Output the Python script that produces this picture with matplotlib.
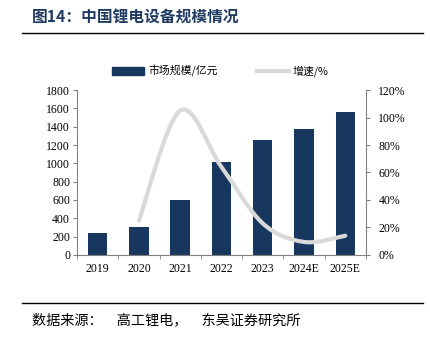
import matplotlib
matplotlib.use("Agg")
import matplotlib.pyplot as plt
from matplotlib.path import Path
from matplotlib.patches import PathPatch
from matplotlib.lines import Line2D
from matplotlib.patches import Patch
import numpy as np

years = ["2019", "2020", "2021", "2022", "2023", "2024E", "2025E"]
market = [240, 300, 600, 1010, 1250, 1370, 1560]
growth_years = ["2020", "2021", "2022", "2023", "2024E", "2025E"]
growth = [25, 105, 64, 23, 9.5, 14]

NAVY = "#17375e"
GREY = "#d9d9d9"
CJK = ["Noto Sans CJK SC", "DejaVu Sans"]
SERIF = "Liberation Serif"

fig = plt.figure(figsize=(4.31, 3.38), dpi=100)
ax = fig.add_axes([0.1787, 0.2456, 0.6703, 0.4881])
ax2 = ax.twinx()

x = np.arange(len(years))
ax.bar(x, market, width=0.47, color=NAVY, zorder=2)
ax.set_xlim(-0.5, len(years) - 0.5)
ax.set_ylim(0, 1800)
ax.set_yticks(range(0, 1801, 200))
ax.set_xticks(x)
ax.set_xticklabels(years)
ax.set_xticks(np.arange(-0.5, len(years)), minor=True)
ax.tick_params(axis="x", which="major", length=0, pad=6)
ax.tick_params(axis="x", which="minor", length=3, color="#808080", direction="out")
ax.tick_params(axis="y", length=3, color="#808080", pad=2)

# smooth growth line: cubic bezier through the data points (catmull-rom)
gx = [years.index(y) for y in growth_years]
pts = np.column_stack([gx, growth]).astype(float)
verts = [pts[0]]
codes = [Path.MOVETO]
for i in range(len(pts) - 1):
    p0 = pts[i - 1] if i > 0 else pts[i]
    p1, p2 = pts[i], pts[i + 1]
    p3 = pts[i + 2] if i + 2 < len(pts) else pts[i + 1]
    c1 = p1 + (p2 - p0) / 6.0
    c2 = p2 - (p3 - p1) / 6.0
    verts += [c1, c2, p2]
    codes += [Path.CURVE4] * 3
ax2.add_patch(PathPatch(Path(verts, codes), fill=False, edgecolor=GREY,
                        lw=3, capstyle="round", zorder=3))
ax2.set_ylim(0, 120)
ax2.set_yticks(range(0, 121, 20))
ax2.set_yticklabels([f"{v}%" for v in range(0, 121, 20)])
ax2.tick_params(axis="y", length=3, color="#808080", pad=6)

for a in (ax, ax2):
    a.spines["top"].set_visible(False)
    for s in ("left", "right", "bottom"):
        a.spines[s].set_color("#808080")
        a.spines[s].set_linewidth(0.8)
    for lab in a.get_xticklabels() + a.get_yticklabels():
        lab.set_fontfamily(SERIF)
        lab.set_fontsize(8.5)
ax.spines["right"].set_visible(False)
ax2.spines["left"].set_visible(False)
ax2.spines["bottom"].set_visible(False)

# legend
handles = [Patch(color=NAVY), Line2D([0], [0], color=GREY, lw=3)]
fig.legend(handles, ["市场规模/亿元", "增速/%"], loc="center",
           bbox_to_anchor=(0.511, 1 - 71 / 338), ncol=2, frameon=False,
           prop={"family": CJK, "size": 7.8}, handlelength=3.0,
           handleheight=0.8, columnspacing=3.6, handletextpad=0.35)

# title and rules
fig.text(32 / 431, 1 - 18 / 338, "图14：中国锂电设备规模情况", family=CJK,
         fontsize=11.3, fontweight="bold", color="#1f3a60", va="center")
fig.add_artist(Line2D([22 / 431, 423 / 431], [1 - 33 / 338] * 2, color="black", lw=1))
fig.add_artist(Line2D([22 / 431, 423 / 431], [1 - 303 / 338] * 2, color="black", lw=1))
fig.text(32 / 431, 1 - 320 / 338, "数据来源：\u3000高工锂电，\u3000东吴证券研究所",
         family=CJK, fontsize=10.2, color="black", va="center")

fig.savefig("out.png", dpi=100)
